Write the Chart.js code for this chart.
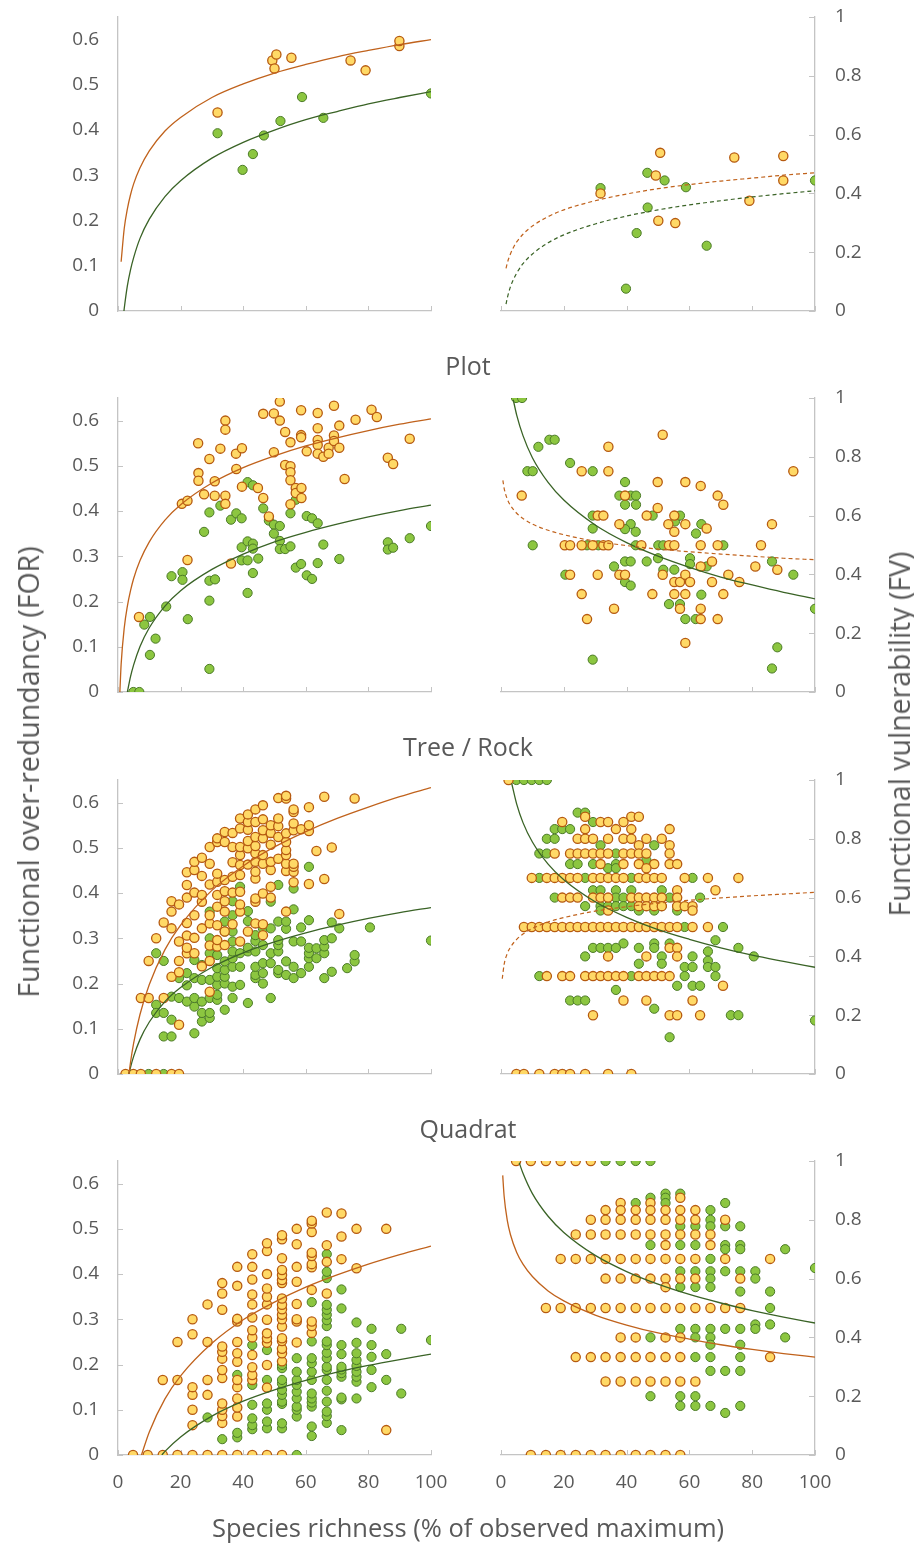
<!DOCTYPE html>
<html>
<head>
<meta charset="utf-8">
<script src="https://cdn.jsdelivr.net/npm/chart.js@4.4.0/dist/chart.umd.min.js"></script>
<style>
  html, body { margin: 0; padding: 0; background: #ffffff; }
  body { width: 914px; height: 1543px; position: relative; overflow: hidden; font-family: "Open Sans", sans-serif; color: #595959; }
  canvas { position: absolute; }
  .t { position: absolute; white-space: nowrap; text-align: center; color: #595959; }
  .rot { transform: translate(-50%, -50%) rotate(-90deg); }
</style>
</head>
<body>
<canvas id="c1L"></canvas><canvas id="c1R"></canvas>
<canvas id="c2L"></canvas><canvas id="c2R"></canvas>
<canvas id="c3L"></canvas><canvas id="c3R"></canvas>
<canvas id="c4L"></canvas><canvas id="c4R"></canvas>
<div class="t" style="left:318px;width:300px;top:347px;font-size:25px;line-height:36px;">Plot</div>
<div class="t" style="left:318px;width:300px;top:728px;font-size:25px;line-height:36px;">Tree / Rock</div>
<div class="t" style="left:318px;width:300px;top:1110px;font-size:25px;line-height:36px;">Quadrat</div>
<div class="t" style="left:118px;width:700px;top:1508px;font-size:25.5px;line-height:38px;">Species richness (% of observed maximum)</div>
<div class="t rot" style="left:28px;top:772px;font-size:28.5px;line-height:36px;">Functional over-redundancy (FOR)</div>
<div class="t rot" style="left:899px;top:734px;font-size:28.5px;line-height:36px;">Functional vulnerability (FV)</div>
<script>
// ---------------- tick labels ----------------
const richnessTicks = [0, 20, 40, 60, 80, 100];
const forTicks = [0, 0.1, 0.2, 0.3, 0.4, 0.5, 0.6];
const fvTicks = [0, 0.2, 0.4, 0.6, 0.8, 1];

// ---------------- Row 1 (FOR left, FV right) ----------------
const r1ForOrange = [[31.8,0.439],[49.3,0.554],[50.6,0.567],[50.0,0.536],[55.4,0.560],[74.3,0.554],[79.1,0.532],[89.9,0.586],[89.9,0.597]];
const r1ForGreen = [[31.8,0.393],[39.8,0.312],[43.1,0.347],[46.6,0.388],[51.9,0.420],[58.8,0.473],[65.6,0.427],[100,0.481]];
const r1FvOrange = [[31.7,0.400],[49.3,0.461],[50.7,0.538],[50.1,0.307],[55.5,0.299],[74.3,0.522],[79.1,0.375],[89.9,0.527],[89.9,0.444]];
const r1FvGreen = [[31.7,0.418],[39.8,0.076],[43.2,0.265],[46.6,0.470],[46.7,0.352],[52.1,0.444],[58.9,0.421],[65.5,0.222],[100,0.444]];
const r1ForOrangeFit = [[1,0.109],[2,0.183],[3,0.226],[4,0.257],[5,0.281],[7,0.316],[10,0.354],[15,0.398],[20,0.428],[30,0.472],[40,0.502],[50,0.526],[60,0.545],[70,0.562],[80,0.576],[90,0.589],[100,0.600]];
const r1ForGreenFit = [[1.9,0],[2,0.006],[3,0.056],[4,0.091],[5,0.118],[7,0.160],[10,0.203],[15,0.253],[20,0.288],[30,0.338],[40,0.373],[50,0.400],[60,0.423],[70,0.441],[80,0.458],[90,0.472],[100,0.485]];
const r1FvOrangeFit = [[1.6,0.145],[2,0.163],[3,0.194],[4,0.217],[5,0.235],[7,0.261],[10,0.289],[15,0.321],[20,0.344],[30,0.375],[40,0.398],[50,0.416],[60,0.430],[70,0.442],[80,0.452],[90,0.462],[100,0.470]];
const r1FvGreenFit = [[1.6,0.023],[2,0.044],[3,0.082],[4,0.108],[5,0.129],[7,0.161],[10,0.194],[15,0.232],[20,0.259],[30,0.296],[40,0.323],[50,0.344],[60,0.361],[70,0.375],[80,0.388],[90,0.399],[100,0.409]];

// ---------------- Row 2 : Plot ----------------
const r2ForOrange = [[6.7,0.166],[22.2,0.292],[20.4,0.416],[22.2,0.423],[25.6,0.550],[25.7,0.484],[25.7,0.467],[27.5,0.437],[29.2,0.515],[30.9,0.466],[30.9,0.434],[32.7,0.538],[34.3,0.600],[34.3,0.580],[34.3,0.434],[34.3,0.416],[36.1,0.284],[37.7,0.527],[37.8,0.493],[39.6,0.539],[39.6,0.454],[44.7,0.451],[46.4,0.615],[46.4,0.429],[48.2,0.388],[49.8,0.616],[49.8,0.530],[51.7,0.642],[51.7,0.600],[53.4,0.575],[53.4,0.502],[55.1,0.552],[55.1,0.499],[55.1,0.486],[55.1,0.468],[55.1,0.415],[56.8,0.451],[56.8,0.440],[58.5,0.623],[58.5,0.568],[58.5,0.563],[58.6,0.451],[58.6,0.429],[60.3,0.532],[63.8,0.617],[63.8,0.583],[63.8,0.557],[63.8,0.546],[63.8,0.527],[65.6,0.520],[67.3,0.540],[67.3,0.527],[69.0,0.633],[69.0,0.567],[69.0,0.555],[70.7,0.589],[70.7,0.540],[72.4,0.471],[75.9,0.602],[81.0,0.624],[82.7,0.608],[86.2,0.518],[87.9,0.504],[93.2,0.560]];
const r2ForGreen = [[4.9,0],[6.8,0],[8.4,0.149],[10.2,0.166],[10.2,0.082],[12.0,0.118],[15.4,0.189],[17.1,0.256],[20.6,0.265],[20.6,0.248],[22.3,0.161],[27.5,0.354],[29.2,0.397],[29.2,0.246],[29.2,0.202],[29.2,0.051],[31.0,0.249],[32.7,0.412],[36.1,0.381],[37.8,0.395],[39.5,0.384],[39.5,0.320],[39.5,0.291],[41.4,0.464],[41.4,0.333],[41.4,0.291],[41.4,0.219],[43.1,0.457],[43.1,0.328],[43.1,0.317],[43.1,0.263],[44.8,0.295],[46.4,0.406],[48.2,0.379],[49.8,0.370],[49.8,0.350],[51.7,0.367],[51.7,0.334],[51.7,0.316],[53.4,0.316],[55.1,0.395],[55.1,0.322],[56.8,0.275],[58.5,0.283],[60.3,0.389],[60.3,0.258],[62.0,0.384],[62.0,0.250],[63.8,0.373],[63.8,0.285],[65.6,0.326],[70.7,0.294],[86.2,0.331],[86.2,0.315],[87.9,0.319],[93.2,0.340],[100,0.367],[56.8,0.425]];
const r2FvGreen = [[4.8,1],[6.7,1],[11.9,0.834],[15.4,0.858],[17.1,0.858],[8.4,0.751],[10.1,0.751],[10.1,0.499],[22.0,0.779],[29.2,0.751],[29.2,0.600],[29.2,0.556],[29.2,0.110],[27.4,0.499],[31.0,0.499],[20.5,0.399],[36.0,0.427],[37.7,0.668],[39.5,0.714],[39.5,0.637],[41.3,0.668],[43.0,0.668],[43.0,0.637],[41.3,0.571],[39.5,0.554],[42.9,0.545],[42.9,0.499],[39.5,0.444],[41.3,0.444],[39.5,0.374],[41.3,0.362],[46.4,0.444],[48.3,0.600],[50.1,0.499],[50.0,0.455],[51.7,0.416],[55.2,0.416],[55.4,0.580],[57.0,0.600],[51.7,0.499],[53.5,0.299],[57.0,0.299],[58.7,0.248],[60.2,0.455],[60.2,0.435],[62.1,0.539],[63.8,0.571],[63.8,0.331],[62.0,0.248],[65.5,0.427],[70.8,0.499],[86.3,0.444],[93.1,0.399],[88.0,0.152],[86.3,0.080],[100,0.283]];
const r2FvOrange = [[6.6,0.668],[20.3,0.499],[22.0,0.499],[22.0,0.399],[25.7,0.751],[25.7,0.499],[25.7,0.333],[27.4,0.248],[29.2,0.499],[30.8,0.600],[32.6,0.600],[30.8,0.399],[32.6,0.499],[34.2,0.499],[34.2,0.834],[34.2,0.751],[36.0,0.283],[37.7,0.571],[37.7,0.399],[39.5,0.668],[39.5,0.399],[44.7,0.499],[46.4,0.600],[48.2,0.333],[49.9,0.714],[49.9,0.626],[51.5,0.875],[51.5,0.399],[53.3,0.571],[53.5,0.499],[55.2,0.499],[55.2,0.600],[55.2,0.545],[55.2,0.374],[55.2,0.333],[57.0,0.374],[57.0,0.283],[58.7,0.714],[58.7,0.571],[58.7,0.399],[58.7,0.333],[58.7,0.167],[60.2,0.374],[63.6,0.701],[63.6,0.499],[63.6,0.427],[63.6,0.283],[63.6,0.248],[65.5,0.556],[67.2,0.444],[67.2,0.374],[69.0,0.668],[70.8,0.637],[69.0,0.499],[69.0,0.248],[70.8,0.333],[72.4,0.399],[75.9,0.374],[81.0,0.427],[82.8,0.499],[86.3,0.571],[88.0,0.416],[93.1,0.751]];
const r2ForOrangeFit = [[0.6,0],[1,0.061],[2,0.142],[3,0.190],[4,0.224],[5,0.251],[7,0.290],[10,0.332],[15,0.380],[20,0.414],[30,0.462],[40,0.496],[50,0.522],[60,0.544],[70,0.562],[80,0.578],[90,0.592],[100,0.604]];
const r2ForGreenFit = [[3,0],[4,0.034],[5,0.060],[7,0.100],[10,0.142],[15,0.190],[20,0.224],[30,0.271],[40,0.305],[50,0.332],[60,0.353],[70,0.371],[80,0.387],[90,0.401],[100,0.413]];
const r2FvGreenFit = [[3.9,0.994],[5,0.942],[7,0.872],[10,0.797],[15,0.713],[20,0.653],[30,0.568],[40,0.508],[50,0.462],[60,0.424],[70,0.391],[80,0.364],[90,0.339],[100,0.317]];
const r2FvOrangeFit = [[0.6,0.720],[1,0.693],[2,0.656],[3,0.635],[5,0.608],[7,0.590],[10,0.571],[15,0.550],[20,0.535],[30,0.513],[40,0.498],[50,0.486],[60,0.477],[70,0.469],[80,0.462],[90,0.455],[100,0.450]];

// ---------------- Row 3 : Tree / Rock ----------------
// columns: [richness, [FOR values]]
const r3ForOrangeCols = [[2.4,[0]],[4.9,[0]],[7.3,[0,0.168]],[9.8,[0.168,0.25]],[12.2,[0,0.3]],[14.6,[0.168,0.335]],[17.1,[0,0.215,0.322,0.359,0.382]],[19.5,[0,0.109,0.225,0.25,0.293,0.375]],[22.0,[0.267,0.279,0.306,0.334,0.39,0.418,0.446]],[24.4,[0.267,0.301,0.351,0.401,0.451,0.469]],[26.8,[0.238,0.322,0.381,0.396,0.438,0.478]],[29.3,[0.182,0.25,0.284,0.333,0.351,0.419,0.465,0.502]],[31.7,[0.282,0.296,0.329,0.37,0.396,0.425,0.443,0.513,0.521]],[34.1,[0.285,0.315,0.359,0.382,0.404,0.429,0.513,0.535]],[36.6,[0.331,0.401,0.436,0.468,0.502,0.533]],[39.0,[0.293,0.359,0.375,0.403,0.44,0.462,0.484,0.502,0.543,0.565]],[41.5,[0.315,0.463,0.499,0.515,0.54,0.557,0.574]],[43.9,[0.333,0.381,0.388,0.432,0.447,0.469,0.488,0.504,0.524,0.557,0.585]],[46.3,[0.307,0.331,0.399,0.465,0.484,0.521,0.539,0.563,0.594]],[48.8,[0.39,0.414,0.451,0.469,0.507,0.533,0.55]],[51.2,[0.476,0.524,0.548,0.565,0.61]],[53.7,[0.359,0.449,0.465,0.484,0.495,0.513,0.532,0.609,0.615]],[56.1,[0.424,0.447,0.458,0.465,0.539,0.554,0.579,0.585]],[58.5,[0.541]],[61.0,[0.42,0.537,0.55,0.59]],[63.4,[0.493]],[65.9,[0.431,0.613]],[68.3,[0.501]],[70.7,[0.354]],[75.6,[0.609]]];
const r3ForGreenCols = [[9.8,[0]],[12.2,[0.153,0.135,0.267]],[14.6,[0,0.083,0.135,0.25]],[17.1,[0.083,0.12,0.171]],[19.5,[0.168,0.212]],[22.0,[0.16,0.196,0.223]],[24.4,[0.09,0.149,0.168,0.212,0.252]],[26.8,[0.116,0.135,0.16,0.208,0.241]],[29.3,[0.124,0.135,0.168,0.208,0.267,0.3,0.359]],[31.7,[0.164,0.175,0.197,0.215,0.234,0.263]],[34.1,[0.142,0.2,0.215,0.23,0.249,0.315,0.337]],[36.6,[0.168,0.193,0.237,0.256,0.271,0.293,0.315,0.351,0.382]],[39.0,[0.197,0.237,0.267,0.414]],[41.5,[0.157,0.271,0.279,0.36,0.338]],[43.9,[0.212,0.219,0.237,0.271,0.294,0.307]],[46.3,[0.2,0.223,0.245,0.285,0.322]],[48.8,[0.168,0.245,0.267,0.322,0.381]],[51.2,[0.223,0.23,0.271,0.285,0.296,0.337,0.418]],[53.7,[0.219,0.249,0.321,0.337]],[56.1,[0.212,0.237,0.293,0.364,0.41]],[58.5,[0.223,0.293,0.324]],[61.0,[0.237,0.256,0.267,0.279,0.34,0.458]],[63.4,[0.256,0.278]],[65.9,[0.212,0.267,0.282,0.296]],[68.3,[0.226,0.3,0.335]],[70.7,[0.322]],[73.2,[0.234]],[75.6,[0.249,0.263]],[80.5,[0.324]],[100,[0.295]]];
// rows: [FV value, [richness values]]
const r3FvOrangeRows = [[1,[2.4]],[0.875,[26.8,41.5,43.9]],[0.857,[19.5,31.7,34.1,39.0]],[0.833,[26.8,36.6,41.5,53.7]],[0.8,[24.4,26.8,29.3,34.1,39.0,41.5,46.3,51.2]],[0.778,[43.9,53.7]],[0.75,[17.1,22.0,24.4,26.8,29.3,31.7,34.1,39.0,41.5,43.9,46.3,53.7]],[0.714,[31.7,39.0,43.9,48.8,53.7,56.1]],[0.7,[46.3]],[0.667,[9.8,14.6,17.1,19.5,22.0,24.4,29.3,31.7,34.1,36.6,39.0,43.9,46.3,48.8,51.2,58.5,65.9,75.6]],[0.625,[56.1,68.3]],[0.6,[19.5,22.0,24.4,29.3,31.7,34.1,41.5,43.9,46.3,48.8,51.2,56.1]],[0.571,[43.9,46.3,48.8,51.2,56.1,58.5,61.0]],[0.556,[34.1,61.0]],[0.5,[7.3,9.8,12.2,14.6,17.1,19.5,22.0,24.4,26.8,29.3,31.7,34.1,36.6,39.0,41.5,43.9,46.3,48.8,51.2,53.7,56.1,61.0,65.9]],[0.429,[53.7,56.1]],[0.4,[34.1,46.3,56.1]],[0.333,[14.6,19.5,22.0,26.8,29.3,31.7,34.1,36.6,39.0,43.9,46.3,48.8,51.2,53.7]],[0.3,[70.7]],[0.25,[39.0,46.3,61.0]],[0.2,[29.3,53.7,56.1,63.4]],[0,[4.9,7.3,12.2,17.1,19.5,22.0,26.8,34.1,41.5]]];
const r3FvGreenRows = [[1,[4.9,7.3,9.8,12.2,14.6]],[0.889,[24.4,26.8]],[0.857,[29.3]],[0.833,[17.1,19.5,22.0]],[0.8,[14.6,17.1]],[0.778,[31.7,48.8]],[0.75,[12.2,14.6,36.6]],[0.727,[46.3]],[0.714,[22.0,24.4,29.3,36.6]],[0.7,[34.1,36.6]],[0.667,[12.2,26.8,41.5,61.0]],[0.625,[29.3,31.7,36.6,41.5,51.2]],[0.6,[17.1,36.6,39.0,53.7,63.4]],[0.571,[26.8,31.7,34.1,36.6,39.0,41.5,48.8,51.2,56.1]],[0.556,[31.7,43.9,48.8,56.1]],[0.5,[58.5,70.7]],[0.455,[68.3]],[0.444,[39.0,48.8,53.7]],[0.429,[29.3,31.7,34.1,36.6,43.9,48.8,75.6]],[0.417,[65.9]],[0.4,[26.8,51.2,61.0,80.5]],[0.385,[65.9]],[0.375,[43.9,51.2]],[0.364,[58.5,61.0,65.9,68.3]],[0.333,[12.2,41.5,58.5,68.3]],[0.3,[56.1,61.0,63.4]],[0.286,[36.6]],[0.25,[22.0,24.4,26.8]],[0.222,[48.8]],[0.2,[73.2,75.6]],[0.182,[100]],[0.125,[53.7]]];
const r3ForOrangeFit = [[3.5,0],[4,0.026],[5,0.068],[7,0.131],[10,0.198],[15,0.275],[20,0.329],[30,0.406],[40,0.460],[50,0.502],[60,0.536],[70,0.565],[80,0.590],[90,0.613],[100,0.633]];
const r3ForGreenFit = [[3.5,0],[4,0.015],[5,0.039],[7,0.076],[10,0.115],[15,0.160],[20,0.191],[30,0.236],[40,0.268],[50,0.292],[60,0.312],[70,0.329],[80,0.344],[90,0.357],[100,0.368]];
const r3FvGreenFit = [[3.4,0.989],[5,0.918],[7,0.855],[10,0.789],[15,0.714],[20,0.661],[30,0.586],[40,0.533],[50,0.491],[60,0.458],[70,0.429],[80,0.404],[90,0.383],[100,0.363]];
const r3FvOrangeFit = [[0.4,0.324],[1,0.373],[2,0.410],[3,0.431],[5,0.458],[7,0.476],[10,0.495],[15,0.517],[20,0.532],[30,0.554],[40,0.569],[50,0.581],[60,0.591],[70,0.599],[80,0.606],[90,0.612],[100,0.618]];

// ---------------- Row 4 : Quadrat ----------------
const r4ForOrangeCols = [[4.8,[0]],[9.5,[0]],[14.3,[0,0.166]],[19.0,[0,0.166,0.25]],[23.8,[0,0.066,0.1,0.133,0.15,0.267,0.3]],[28.6,[0,0.133,0.166,0.25,0.333]],[33.3,[0,0.071,0.086,0.1,0.114,0.17,0.188,0.213,0.228,0.24,0.321,0.357,0.38]],[38.1,[0,0.085,0.105,0.125,0.15,0.166,0.206,0.225,0.25,0.295,0.301,0.374,0.416]],[42.9,[0,0.166,0.177,0.194,0.221,0.26,0.276,0.304,0.333,0.355,0.388,0.416,0.444]],[47.6,[0,0.149,0.199,0.248,0.258,0.269,0.299,0.333,0.35,0.368,0.4,0.451,0.468]],[52.4,[0,0.207,0.225,0.235,0.252,0.258,0.284,0.3,0.31,0.322,0.332,0.346,0.38,0.387,0.398,0.409,0.435,0.477,0.486]],[57.1,[0.249,0.295,0.3,0.334,0.383,0.416,0.466,0.5]],[61.9,[0.27,0.285,0.295,0.365,0.415,0.422,0.44,0.447,0.493,0.512,0.518]],[66.7,[0.357,0.427,0.464,0.536]],[71.4,[0.433,0.483,0.534]],[76.2,[0.413,0.5]],[85.7,[0.055,0.5]]];
const r4ForGreenCols = [[28.6,[0.083]],[33.3,[0.035]],[38.1,[0.039,0.049,0.177]],[42.9,[0.057,0.066,0.081,0.111,0.155,0.243]],[47.6,[0.059,0.074,0.1,0.114,0.166,0.232]],[52.4,[0.059,0.07,0.113,0.118,0.133,0.144,0.158,0.166,0.192,0.199]],[57.1,[0,0.085,0.1,0.107,0.125,0.14,0.155,0.166,0.184,0.214]],[61.9,[0.042,0.063,0.107,0.116,0.125,0.136,0.166,0.184,0.203,0.214,0.251,0.338]],[66.7,[0.071,0.086,0.096,0.118,0.142,0.166,0.188,0.195,0.214,0.226,0.243,0.251,0.285,0.298,0.31,0.321,0.332,0.391,0.405,0.444]],[71.4,[0.055,0.123,0.127,0.173,0.181,0.189,0.195,0.223,0.243,0.324,0.366]],[76.2,[0.125,0.162,0.173,0.184,0.197,0.21,0.225,0.248,0.293]],[81.0,[0.15,0.188,0.217,0.243,0.279]],[85.7,[0.166,0.223]],[90.5,[0.136,0.279]],[100,[0.254]]];
const r4FvOrangeRows = [[1,[4.8,9.5,14.3,19.0,23.8,28.6]],[0.875,[57.1]],[0.857,[38.1,47.6]],[0.833,[33.3,38.1,42.9,47.6,52.4,57.1,61.9]],[0.8,[28.6,33.3,38.1,42.9,47.6,52.4,57.1,61.9,71.4]],[0.75,[23.8,28.6,33.3,38.1,42.9,47.6,52.4,57.1,61.9,66.7]],[0.714,[52.4,66.7]],[0.667,[19.0,23.8,28.6,33.3,38.1,42.9,47.6,52.4,57.1,61.9,71.4,85.7]],[0.6,[33.3,38.1,42.9,47.6,52.4,57.1,61.9,76.2]],[0.571,[52.4]],[0.5,[14.3,19.0,23.8,28.6,33.3,38.1,42.9,47.6,52.4,57.1,61.9,66.7,71.4,76.2]],[0.4,[38.1,42.9,52.4,57.1]],[0.333,[23.8,28.6,33.3,38.1,42.9,47.6,52.4,57.1,85.7]],[0.25,[33.3,38.1,42.9,47.6,52.4,57.1,61.9]],[0,[9.5,14.3,19.0,23.8,28.6,33.3,38.1,42.9,47.6,52.4,57.1]]];
const r4FvGreenRows = [[1,[33.3,38.1,42.9,47.6]],[0.889,[52.4,57.1]],[0.875,[47.6,52.4]],[0.857,[42.9,52.4,71.4]],[0.833,[66.7]],[0.8,[66.7]],[0.778,[57.1,61.9,66.7,71.4,76.2]],[0.714,[47.6,57.1,61.9,71.4,76.2]],[0.7,[71.4,76.2,90.5]],[0.667,[66.7]],[0.636,[100]],[0.625,[57.1,61.9,66.7,71.4,76.2,81.0]],[0.6,[66.7,81.0]],[0.571,[57.1,61.9,66.7]],[0.556,[76.2,85.7]],[0.5,[85.7]],[0.444,[81.0,85.7]],[0.429,[57.1,61.9,66.7,71.4,76.2,81.0]],[0.4,[47.6,61.9,66.7,90.5]],[0.375,[66.7,76.2]],[0.333,[61.9,66.7,76.2]],[0.286,[66.7,71.4,76.2]],[0.2,[47.6,57.1,61.9]],[0.167,[57.1,61.9,66.7,76.2]],[0.143,[71.4]]];
const r4ForOrangeFit = [[7.5,0],[10,0.051],[15,0.124],[20,0.175],[30,0.247],[40,0.299],[50,0.338],[60,0.371],[70,0.398],[80,0.422],[90,0.443],[100,0.462]];
const r4ForGreenFit = [[14,0],[15,0.008],[20,0.040],[30,0.086],[40,0.119],[50,0.144],[60,0.165],[70,0.183],[80,0.198],[90,0.211],[100,0.223]];
const r4FvGreenFit = [[5.8,0.994],[7,0.958],[10,0.889],[15,0.812],[20,0.757],[30,0.679],[40,0.624],[50,0.581],[60,0.546],[70,0.517],[80,0.491],[90,0.469],[100,0.449]];
const r4FvOrangeFit = [[0.55,0.951],[1,0.880],[2,0.798],[3,0.750],[5,0.689],[7,0.649],[10,0.607],[15,0.558],[20,0.524],[30,0.476],[40,0.442],[50,0.415],[60,0.394],[70,0.375],[80,0.359],[90,0.345],[100,0.333]];

// ---------------- helpers ----------------
const fromPairs = ps => ps.map(([x, y]) => ({x, y}));
const fromCols = cols => cols.flatMap(([x, ys]) => ys.map(y => ({x, y})));
const fromRows = rows => rows.flatMap(([y, xs]) => xs.map(x => ({x, y})));

const AXIS = '#C4C4C4';
const TXT = '#595959';
const ORANGE_FILL = '#FFD966', ORANGE_EDGE = '#B65A10', ORANGE_LINE = '#C0621C';
const GREEN_FILL = '#8CC640', GREEN_EDGE = '#4B7A27', GREEN_LINE = '#3A6326';

Chart.defaults.font.family = '"Open Sans", sans-serif';
Chart.defaults.color = TXT;

const innerTicks = {
  id: 'innerTicks',
  beforeDatasetsDraw(chart, args, opts) {
    const ctx = chart.ctx;
    ctx.save();
    ctx.strokeStyle = AXIS;
    ctx.lineWidth = 1;
    for (const id of Object.keys(chart.scales)) {
      const s = chart.scales[id];
      const len = opts[id] || 0;
      if (!len) continue;
      s.ticks.forEach(t => {
        const p = Math.round(s.getPixelForValue(t.value)) + 0.5;
        ctx.beginPath();
        if (s.isHorizontal()) { ctx.moveTo(p, s.top); ctx.lineTo(p, s.top - len); }
        else if (s.position === 'left') { ctx.moveTo(s.right, p); ctx.lineTo(s.right + len, p); }
        else { ctx.moveTo(s.left, p); ctx.lineTo(s.left - len, p); }
        ctx.stroke();
      });
    }
    ctx.restore();
  }
};

// chart-area placement on the page
const AREA_TOPS = [17, 398, 780, 1161];
const AREA_H = 294;
const LEFT_AREA = [118, 431], RIGHT_AREA = [501, 815];
const MARGIN_TOP = 40, MARGIN_BOTTOM = 60;

function panel(id, side, row, orangePts, greenPts, orangeFit, greenFit, orangeDashed, greenDashed, yTickLen) {
  const cv = document.getElementById(id);
  const isLeft = side === 'L';
  const canvasLeft = isLeft ? 0 : 460;
  const W = isLeft ? 470 : 454;
  const H = MARGIN_TOP + AREA_H + MARGIN_BOTTOM;
  cv.width = W; cv.height = H;
  cv.style.width = W + 'px'; cv.style.height = H + 'px';
  cv.style.left = canvasLeft + 'px';
  cv.style.top = (AREA_TOPS[row] - MARGIN_TOP) + 'px';
  const area = isLeft ? LEFT_AREA : RIGHT_AREA;
  const want = { left: area[0] - canvasLeft, right: area[1] - canvasLeft, top: MARGIN_TOP, bottom: MARGIN_TOP + AREA_H };
  const bottomRow = row === 3;
  const yVals = isLeft ? forTicks : fvTicks;
  const fitLine = (data, color, dashed) => ({
    type: 'scatter', data: fromPairs(data), showLine: true, pointRadius: 0,
    borderColor: color, borderWidth: dashed ? 1.2 : 1.3, borderDash: dashed ? [4, 3] : [],
    cubicInterpolationMode: 'monotone', fill: false, order: 0
  });
  const chart = new Chart(cv, {
    type: 'scatter',
    data: {
      datasets: [
        fitLine(orangeFit, ORANGE_LINE, orangeDashed),
        fitLine(greenFit, GREEN_LINE, greenDashed),
        { data: orangePts, backgroundColor: ORANGE_FILL, borderColor: ORANGE_EDGE, borderWidth: 1.3, pointRadius: 4.6, order: 1 },
        { data: greenPts, backgroundColor: GREEN_FILL, borderColor: GREEN_EDGE, borderWidth: 1, pointRadius: 4.6, order: 2 }
      ]
    },
    options: {
      responsive: false, animation: false, events: [],
      layout: { padding: { top: 20, bottom: 10, left: isLeft ? 18 : 30, right: 20 } },
      plugins: { legend: { display: false }, tooltip: { enabled: false },
        innerTicks: { x: 5, y: yTickLen } },
      scales: {
        x: {
          type: 'linear', position: 'bottom', min: 0, max: 100,
          afterBuildTicks: s => { s.ticks = richnessTicks.map(v => ({value: v})); },
          afterFit: s => { s.height = 50; },
          grid: { display: false, drawTicks: false },
          border: { display: true, color: AXIS, width: 1.3 },
          ticks: { display: bottomRow, padding: 16, font: { size: 19 }, color: TXT, maxRotation: 0,
                   callback: v => String(v) }
        },
        y: {
          type: 'linear', position: isLeft ? 'left' : 'right', min: 0, max: isLeft ? 0.65 : 1,
          afterBuildTicks: s => { s.ticks = yVals.map(v => ({value: v})); },
          afterFit: s => { s.width = 60; },
          grid: { display: false, drawTicks: false },
          border: { display: true, color: AXIS, width: 1.3 },
          ticks: { padding: isLeft ? 19 : 20, font: { size: 19 }, color: TXT,
                   callback: v => String(+(+v).toFixed(2)) }
        }
      }
    },
    plugins: [innerTicks]
  });
  // nudge layout padding so the plot area lands exactly where the reference has it
  for (let i = 0; i < 4; i++) {
    const a = chart.chartArea;
    const p = chart.options.layout.padding;
    const dl = want.left - a.left, dr = a.right - want.right, dt = want.top - a.top, db = a.bottom - want.bottom;
    if (Math.abs(dl) + Math.abs(dr) + Math.abs(dt) + Math.abs(db) < 0.3) break;
    chart.options.layout.padding = { left: p.left + dl, right: p.right + dr, top: p.top + dt, bottom: p.bottom + db };
    chart.update('none');
  }
}

panel('c1L', 'L', 0, fromPairs(r1ForOrange), fromPairs(r1ForGreen), r1ForOrangeFit, r1ForGreenFit, false, false, 0);
panel('c1R', 'R', 0, fromPairs(r1FvOrange), fromPairs(r1FvGreen), r1FvOrangeFit, r1FvGreenFit, true, true, 6);
panel('c2L', 'L', 1, fromPairs(r2ForOrange), fromPairs(r2ForGreen), r2ForOrangeFit, r2ForGreenFit, false, false, 5);
panel('c2R', 'R', 1, fromPairs(r2FvOrange), fromPairs(r2FvGreen), r2FvOrangeFit, r2FvGreenFit, true, false, 6);
panel('c3L', 'L', 2, fromCols(r3ForOrangeCols), fromCols(r3ForGreenCols), r3ForOrangeFit, r3ForGreenFit, false, false, 5);
panel('c3R', 'R', 2, fromRows(r3FvOrangeRows), fromRows(r3FvGreenRows), r3FvOrangeFit, r3FvGreenFit, true, false, 6);
panel('c4L', 'L', 3, fromCols(r4ForOrangeCols), fromCols(r4ForGreenCols), r4ForOrangeFit, r4ForGreenFit, false, false, 5);
panel('c4R', 'R', 3, fromRows(r4FvOrangeRows), fromRows(r4FvGreenRows), r4FvOrangeFit, r4FvGreenFit, false, false, 6);
</script>
</body>
</html>
